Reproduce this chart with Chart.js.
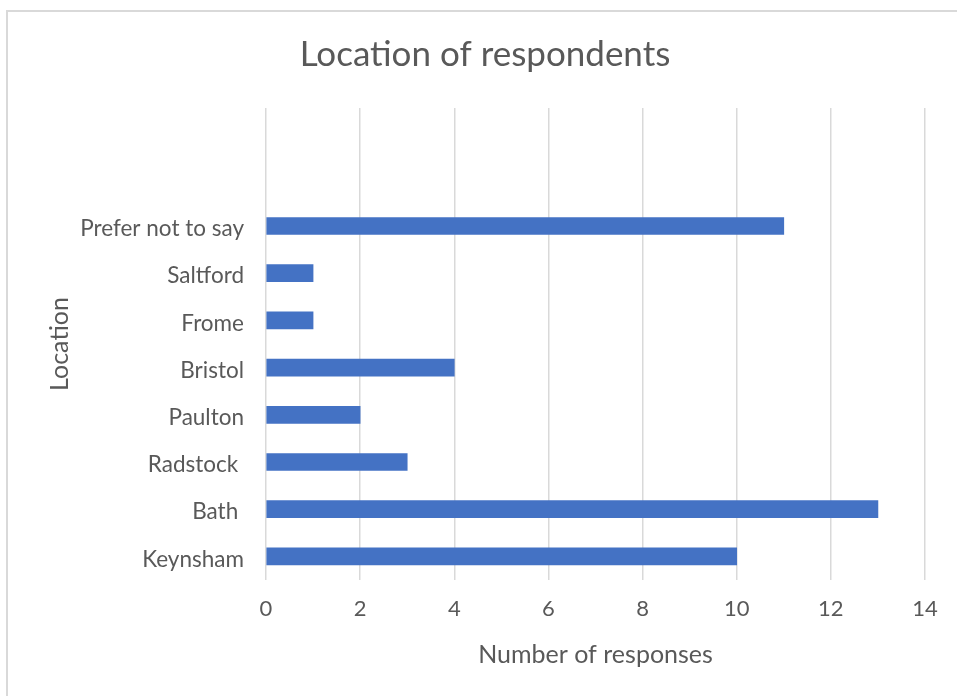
<!DOCTYPE html>
<html>
<head>
<meta charset="utf-8">
<script src="https://cdn.jsdelivr.net/npm/chart.js@4"></script>
<style>
  html, body { margin: 0; padding: 0; background: #fff; }
  #wrap { position: relative; width: 957px; height: 696px; overflow: hidden; }
  #frame {
    position: absolute; left: 6px; top: 10px; width: 1000px; height: 1000px;
    border-left: 2px solid #d9d9d9; border-top: 2px solid #d9d9d9;
  }
  canvas { position: absolute; left: 0; top: 0; }
</style>
</head>
<body>
<div id="wrap">
  <div id="frame"></div>
  <canvas id="chart" width="957" height="696"></canvas>
</div>
<script>
// top to bottom, two empty slots at the top like the original
const locations = ["", "", "Prefer not to say", "Saltford", "Frome", "Bristol", "Paulton", "Radstock ", "Bath ", "Keynsham"];
const responses = [null, null, 11, 1, 1, 4, 2, 3, 13, 10];
const xMax = 14;
const xStep = 2;

const TEXT = "#595959";
const GRID = "#d9d9d9";
const FONT = "Lato, 'Open Sans', sans-serif";

new Chart(document.getElementById("chart"), {
  type: "bar",
  data: {
    labels: locations,
    datasets: [{
      data: responses,
      backgroundColor: "#4472c4",
      borderWidth: 0,
      barThickness: 17
    }]
  },
  options: {
    indexAxis: "y",
    responsive: false,
    animation: false,
    layout: {
      padding: { left: 45, right: 32, top: 10, bottom: 20 }
    },
    plugins: {
      legend: { display: false },
      tooltip: { enabled: false },
      title: {
        display: true,
        text: "Location of respondents",
        color: TEXT,
        font: { family: FONT, size: 35, weight: "normal" },
        padding: { top: 24, bottom: 32 }
      }
    },
    scales: {
      x: {
        min: 0,
        max: xMax,
        ticks: {
          stepSize: xStep,
          color: TEXT,
          font: { family: FONT, size: 22 },
          padding: 16
        },
        grid: { color: GRID, lineWidth: 1.5, drawTicks: false },
        border: { display: false },
        title: {
          display: true,
          text: "Number of responses",
          color: TEXT,
          font: { family: FONT, size: 25 },
          padding: { top: 0, bottom: 6 }
        },
        afterFit: scale => { scale.height = 96; }
      },
      y: {
        ticks: {
          color: TEXT,
          font: { family: FONT, size: 22.5 },
          padding: 22,
          labelOffset: 3
        },
        grid: { display: false, drawTicks: false },
        border: { display: false },
        title: {
          display: true,
          text: "Location",
          color: TEXT,
          font: { family: FONT, size: 25 },
          padding: 0
        },
        afterFit: scale => { scale.width = 221; }
      }
    }
  }
});
</script>
</body>
</html>
